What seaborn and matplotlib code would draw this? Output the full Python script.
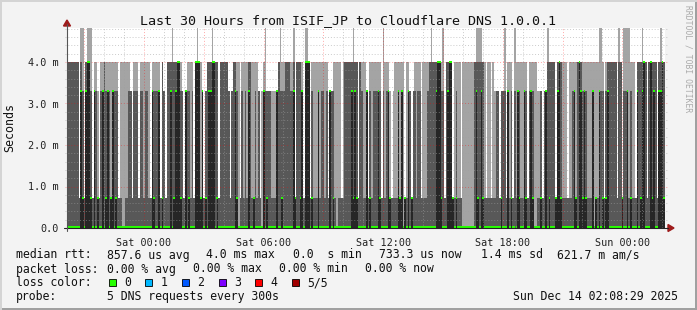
import numpy as np
import pandas as pd
import matplotlib
matplotlib.use("Agg")
import matplotlib.pyplot as plt
from matplotlib.lines import Line2D
from matplotlib.patches import Polygon, Rectangle
import seaborn as sns

# ---------------- data ----------------
TITLE = "Last 30 Hours from ISIF_JP to Cloudflare DNS 1.0.0.1"
START = pd.Timestamp("2025-12-12 20:08:29")
END = pd.Timestamp("2025-12-14 02:08:29")
STEP_MIN = 5
N_STEPS = 360
# quantised rtt levels seen in the smoke (ms); index 4 = above the top of the graph
LEVELS_MS = [0.0, 0.733, 3.3, 4.0, 4.9]

# slowest of the 5 pings (level index); default level 3 (4.0 ms)
MAX_AT_TOP = [8, 9, 12, 13, 14, 63, 69, 78, 87, 119, 128, 136, 143, 144, 159, 172, 190, 219,
              226, 246, 247, 248, 249, 263, 269, 289, 320, 321, 332, 335, 336, 337, 338, 346, 357]
MAX_AT_3_3 = [18, 38, 58, 69, 71, 81, 83, 97, 99, 115, 117, 120, 121, 122, 123, 124, 125, 126,
              158, 159, 180, 194, 196, 206, 208, 257, 258, 259, 261, 262, 283, 284, 285, 287, 288]
MAX_AT_0_73 = [7, 10, 15, 19, 31, 39, 43, 50, 56, 59, 70, 76, 82, 91, 98, 104, 116, 137, 142,
               146, 157, 165, 175, 181, 189, 195, 203, 207, 213, 227, 232, 237, 252, 255, 260,
               264, 268, 277, 286, 294, 301, 323, 331, 334, 342, 349, 355]
# 4th ping (upper edge of the inner smoke); default level 2 (3.3 ms)
Q4_AT_4_0 = [0, 1, 2, 3, 4, 5, 6, 8, 11, 22, 57, 60, 61, 62, 63, 64, 65, 84, 85, 86, 89, 90,
             92, 93, 94, 95, 96, 100, 101, 109, 110, 127, 131, 132, 133, 136, 138, 139, 140,
             167, 168, 169, 170, 171, 172, 173, 174, 176, 218, 219, 220, 221, 222, 228, 229,
             245, 246, 247, 248, 249, 250, 289, 290, 291, 292, 293, 295, 297, 307, 309, 325,
             326, 327, 328, 329, 330, 332, 333, 343, 344, 345, 346, 348, 350, 352, 353, 354,
             356, 357, 359]
Q4_AT_0_73 = [18, 26, 32, 35, 36, 46, 49, 74, 80, 106, 108, 111, 112, 114, 123, 124, 125, 148,
              149, 150, 152, 155, 161, 163, 164, 166, 178, 179, 183, 191, 194, 196, 197, 198,
              200, 204, 210, 214, 215, 216, 233, 235, 236, 251, 253, 254, 256, 257, 266, 270,
              273, 274, 283, 284, 298, 299, 300, 302, 303, 306, 313, 314, 315, 318, 319, 338,
              340, 341]
Q4_AT_0 = [33, 34, 103, 117, 162, 202, 238, 239, 240, 241, 242, 243, 244, 281, 282, 317]
# median (3rd ping); default 0
MED_AT_4_0 = [12, 13, 66, 67, 77, 78, 79, 87, 88, 143, 144, 145, 223, 224, 230, 231, 296, 308,
              347, 351, 358]
MED_AT_3_3 = [8, 11, 16, 21, 24, 27, 51, 55, 62, 65, 71, 81, 85, 86, 101, 109, 118, 126, 136,
              141, 151, 158, 171, 173, 180, 187, 193, 199, 201, 205, 222, 229, 246, 249, 265,
              271, 275, 279, 288, 295, 305, 309, 311, 316, 320, 325, 337, 343, 346, 353, 356, 357]
MED_AT_0_73 = [9, 14, 18, 23, 26, 29, 52, 57, 64, 68, 73, 80, 83, 90, 102, 112, 120, 129, 137,
               140, 147, 160, 172, 174, 182, 188, 194, 200, 203, 207, 225, 232, 234, 247, 250,
               261, 267, 272, 276, 280, 285, 290, 294, 297, 306, 310, 312, 318, 322, 324, 334,
               339, 345, 352, 359]

Y_TICKS_MS = [0, 1, 2, 3, 4]
Y_TICK_LABELS = ["0.0", "1.0 m", "2.0 m", "3.0 m", "4.0 m"]
X_TICK_TIMES = ["2025-12-13 00:00", "2025-12-13 06:00", "2025-12-13 12:00",
                "2025-12-13 18:00", "2025-12-14 00:00"]
X_TICK_LABELS = ["Sat 00:00", "Sat 06:00", "Sat 12:00", "Sat 18:00", "Sun 00:00"]

LEGEND_LINE1 = [("median rtt:", 16), ("857.6 us avg", 107), ("4.0 ms max", 206),
                ("0.0  s min", 293), ("733.3 us now", 379), ("1.4 ms sd", 481),
                ("621.7 m am/s", 557)]
LEGEND_LINE2 = [("packet loss:", 16), ("0.00 % avg", 107), ("0.00 % max", 193),
                ("0.00 % min", 279), ("0.00 % now", 365)]
LOSS_LABELS = ["0", "1", "2", "3", "4", "5/5"]
LOSS_COLORS = ["#26ff00", "#00b8ff", "#0059ff", "#7e00ff", "#ff0000", "#a10000"]
PROBE_TEXT = "5 DNS requests every 300s"
STAMP = "Sun Dec 14 02:08:29 2025"

C_OUTER, C_INNER, C_CORE = "#a4a4a4", "#585858", "#262626"

# ---------------- prepare ----------------
lv = np.array(LEVELS_MS)
p5 = np.full(N_STEPS, 3)
p5[MAX_AT_TOP] = 4
p5[MAX_AT_3_3] = 2
p5[MAX_AT_0_73] = 1
p4 = np.full(N_STEPS, 2)
p4[Q4_AT_4_0] = 3
p4[Q4_AT_0_73] = 1
p4[Q4_AT_0] = 0
p3 = np.zeros(N_STEPS, dtype=int)
p3[MED_AT_0_73] = 1
p3[MED_AT_3_3] = 2
p3[MED_AT_4_0] = 3
p4 = np.maximum(np.minimum(p4, p5), p3)

step_h = STEP_MIN / 60.0
x_hours = (np.arange(N_STEPS) + 0.5) * step_h
df = pd.DataFrame({"hour": x_hours, "max": lv[p5], "q4": lv[p4], "median": lv[p3]})

def hours(ts):
    return (pd.Timestamp(ts) - START).total_seconds() / 3600.0

# ---------------- figure ----------------
W, H = 697, 310
sns.set_theme(style="white")
plt.rcParams["font.family"] = ["DejaVu Sans Mono"]
fig = plt.figure(figsize=(W / 100, H / 100), dpi=100, facecolor="#f3f3f3")

def fx(x):
    return x / W

def fy(y):
    return 1 - y / H

PX_L, PX_R, PX_T, PX_B = 67, 665, 28, 228
ax = fig.add_axes([fx(PX_L), fy(PX_B), (PX_R - PX_L) / W, (PX_B - PX_T) / H])
ax.set_facecolor("white")

# smoke, painted outer -> inner
for col, colour in (("max", C_OUTER), ("q4", C_INNER), ("median", C_CORE)):
    sns.barplot(data=df, x="hour", y=col, color=colour, native_scale=True, width=1.0,
                saturation=1, errorbar=None, linewidth=0, antialiased=False, ax=ax)

# median marker
mh = 0.05
ax.bar(df["hour"], mh, bottom=df["median"] - mh / 2 + (df["median"] == 0) * mh / 2,
       width=step_h, color=LOSS_COLORS[0], linewidth=0, antialiased=False, zorder=4)

y_top = (PX_B - PX_T) / 41.5
ax.set_xlim(0, 30)
ax.set_ylim(0, y_top)

# grid
ext = 2 / (PX_R - PX_L)
for v in np.arange(0.2, y_top, 0.2):
    major = abs(v - round(v)) < 1e-6
    ax.axhline(v, xmin=-ext, xmax=1 + ext, color="#ff0000" if major else "#a0a0a0",
               alpha=0.35 if major else 0.55, lw=0.7, ls=(0, (1, 2)), zorder=3, clip_on=False)
hour_marks = pd.date_range("2025-12-12 21:00", END, freq="h")
for t in hour_marks:
    major = t.hour % 3 == 0
    ax.axvline(hours(t), color="#ff0000" if major else "#a0a0a0",
               alpha=0.35 if major else 0.55, lw=0.7, ls=(0, (1, 2)), zorder=3)

for s in ax.spines.values():
    s.set_visible(False)

ax.set_yticks(Y_TICKS_MS)
ax.set_yticklabels(Y_TICK_LABELS, fontsize=7.3, color="#222222")
ax.set_xticks([hours(t) for t in X_TICK_TIMES])
ax.set_xticklabels(X_TICK_LABELS, fontsize=7.3, color="#222222")
ax.set_xticks([hours(t) for t in hour_marks if t.hour % 3 == 0 and t.hour % 6 != 0], minor=True)
ax.tick_params(axis="x", which="both", length=3, width=0.7, color="#444444", pad=4, direction="out")
ax.tick_params(axis="y", which="both", length=0, pad=6)
ax.set_xlabel("")
ax.set_ylabel("")

# axis lines and arrows
fig.add_artist(Line2D([fx(64), fx(668)], [fy(PX_B), fy(PX_B)], color="#222222", lw=0.8))
fig.add_artist(Line2D([fx(PX_L), fx(PX_L)], [fy(231), fy(24)], color="#555555", lw=0.8))
fig.add_artist(Polygon([(fx(668), fy(224.5)), (fx(668), fy(231.5)), (fx(674), fy(228))],
                       closed=True, color="#9e1b1b", transform=fig.transFigure))
fig.add_artist(Polygon([(fx(63.5), fy(26)), (fx(70.5), fy(26)), (fx(67), fy(20))],
                       closed=True, color="#9e1b1b", transform=fig.transFigure))

# texts
fig.text(fx(348), fy(24.5), TITLE, ha="center", va="baseline", fontsize=9.6, color="#111111")
fig.text(fx(10), fy(127), "Seconds", ha="center", va="center", rotation=90,
         fontsize=8.4, color="#111111")
fig.text(fx(688), fy(5), "RRDTOOL / TOBI OETIKER", ha="center", va="top", rotation=270,
         fontsize=5.8, color="#aaaaaa")

LS = 8.3
for txt, x in LEGEND_LINE1:
    fig.text(fx(x), fy(258.5), txt, ha="left", va="baseline", fontsize=LS, color="#111111")
for txt, x in LEGEND_LINE2:
    fig.text(fx(x), fy(272.5), txt, ha="left", va="baseline", fontsize=LS, color="#111111")
fig.text(fx(16), fy(286.5), "loss color:", ha="left", va="baseline", fontsize=LS, color="#111111")
for k, (lab, col) in enumerate(zip(LOSS_LABELS, LOSS_COLORS)):
    bx = 108.5 + 36.7 * k
    fig.add_artist(Rectangle((fx(bx), fy(285.5)), 7 / W, 7 / H, transform=fig.transFigure,
                             facecolor=col, edgecolor="#000000", lw=0.6))
    fig.text(fx(bx + 15.5), fy(286.5), lab, ha="left", va="baseline", fontsize=LS, color="#111111")
fig.text(fx(16), fy(300.3), "probe:", ha="left", va="baseline", fontsize=LS, color="#111111")
fig.text(fx(107), fy(300.3), PROBE_TEXT, ha="left", va="baseline", fontsize=LS, color="#111111")
fig.text(fx(513), fy(300.3), STAMP, ha="left", va="baseline", fontsize=LS, color="#111111")

# frame
fig.add_artist(Rectangle((0, 0), 1, 2 / H, transform=fig.transFigure, color="#a0a0a0", lw=0))
fig.add_artist(Rectangle((1 - 2 / W, 0), 2 / W, 1, transform=fig.transFigure, color="#a0a0a0", lw=0))
fig.add_artist(Rectangle((0, 1 - 2 / H), 1, 2 / H, transform=fig.transFigure, color="#d4d4d4", lw=0))
fig.add_artist(Rectangle((0, 0), 2 / W, 1 - 2 / H, transform=fig.transFigure, color="#d4d4d4", lw=0))

fig.savefig("out.png", dpi=100, facecolor=fig.get_facecolor())
